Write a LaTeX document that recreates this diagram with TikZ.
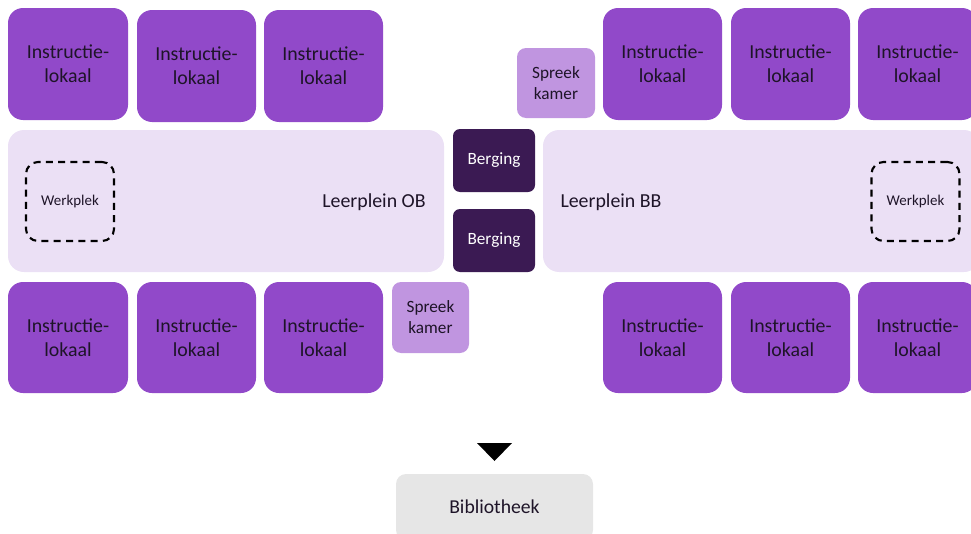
\documentclass[tikz,border=0pt]{standalone}
\usepackage{fontspec}
\setmainfont{Carlito}

\definecolor{lokaalpaars}{HTML}{9149C9}
\definecolor{spreekpaars}{HTML}{C095E0}
\definecolor{pleinpaars}{HTML}{EBE0F5}
\definecolor{bergpaars}{HTML}{3B1A53}
\definecolor{bibgrijs}{HTML}{E6E6E6}
\definecolor{tekst}{HTML}{1E1428}

\newlength\pix
\setlength\pix{0.02cm}

\tikzstyle{lokaal}=[fill=lokaalpaars,rounded corners=15\pix,minimum width=119\pix,minimum height=112\pix,inner sep=0pt,align=center,text=tekst,font=\fontsize{11.3}{13.5}\selectfont]
\tikzstyle{spreek}=[fill=spreekpaars,rounded corners=9\pix,minimum width=78\pix,minimum height=70\pix,inner sep=0pt,align=center,text=tekst,font=\fontsize{9.8}{12}\selectfont]
\tikzstyle{plein}=[fill=pleinpaars,rounded corners=16\pix,minimum width=436\pix,minimum height=142\pix,inner sep=0pt]
\tikzstyle{berg}=[fill=bergpaars,rounded corners=7\pix,minimum width=82\pix,minimum height=63\pix,inner sep=0pt,text=white,font=\fontsize{9.8}{12}\selectfont]
\tikzstyle{werk}=[draw=black,line width=1.2pt,dash pattern=on 4pt off 3pt,rounded corners=12\pix,minimum width=88\pix,minimum height=79\pix,inner sep=0pt,text=tekst,font=\fontsize{8.5}{10}\selectfont]
\tikzstyle{titel}=[text=tekst,font=\fontsize{11.3}{13.5}\selectfont]
\tikzstyle{bib}=[fill=bibgrijs,rounded corners=10\pix,minimum width=197\pix,minimum height=66\pix,inner sep=0pt,text=tekst,font=\fontsize{11.2}{13.5}\selectfont]

\begin{document}
\begin{tikzpicture}[x=0.02cm,y=-0.02cm]
    \useasboundingbox (0,0) rectangle (971,534);

    \node (i1)[lokaal,minimum width=120\pix] at (68,64) {Instructie-\\lokaal};
    \node (i2)[lokaal] at (196.5,66) {Instructie-\\lokaal};
    \node (i3)[lokaal] at (323.5,66) {Instructie-\\lokaal};
    \node (s1)[spreek] at (556,83) {Spreek\\kamer};
    \node (i4)[lokaal] at (662.5,64) {Instructie-\\lokaal};
    \node (i5)[lokaal] at (790.5,64) {Instructie-\\lokaal};
    \node (i6)[lokaal] at (917.5,64) {Instructie-\\lokaal};

    \node (pOB)[plein] at (226,201) {};
    \node (pBB)[plein,minimum width=437\pix] at (761.5,201) {};
    \node (tOB)[titel] at (374,202) {Leerplein OB};
    \node (tBB)[titel] at (611,202) {Leerplein BB};
    \node (w1)[werk] at (70,201.5) {Werkplek};
    \node (w2)[werk] at (915.5,201.5) {Werkplek};
    \node (b1)[berg] at (494,160.5) {Berging};
    \node (b2)[berg] at (494,240.5) {Berging};

    \node (i7)[lokaal,minimum width=120\pix,minimum height=111\pix] at (68,337.5) {Instructie-\\lokaal};
    \node (i8)[lokaal,minimum height=111\pix] at (196.5,337.5) {Instructie-\\lokaal};
    \node (i9)[lokaal,minimum height=111\pix] at (323.5,337.5) {Instructie-\\lokaal};
    \node (s2)[spreek,minimum width=77\pix,minimum height=71\pix] at (430.5,317.5) {Spreek\\kamer};
    \node (i10)[lokaal,minimum height=111\pix] at (662.5,337.5) {Instructie-\\lokaal};
    \node (i11)[lokaal,minimum height=111\pix] at (790.5,337.5) {Instructie-\\lokaal};
    \node (i12)[lokaal,minimum height=111\pix] at (917.5,337.5) {Instructie-\\lokaal};

    \fill[black] (477,443) -- (512,443) -- (494.5,461) -- cycle;
    \node (bib)[bib] at (494.5,507) {Bibliotheek};
\end{tikzpicture}
\end{document}
